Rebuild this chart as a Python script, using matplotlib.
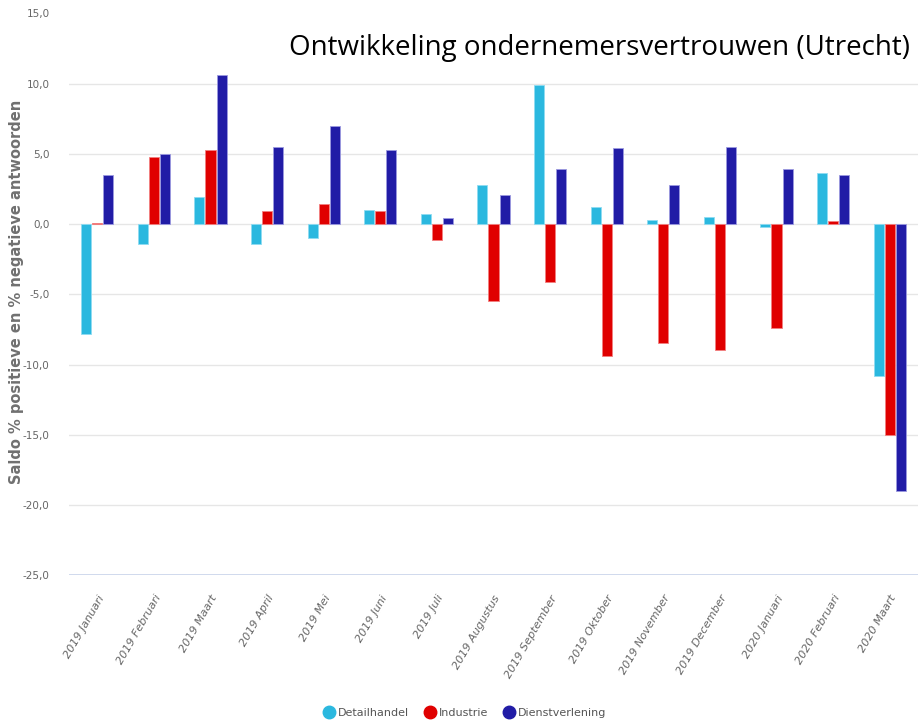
import matplotlib
matplotlib.use("Agg")
import matplotlib.pyplot as plt
import numpy as np
from matplotlib.lines import Line2D

categories = ["2019 Januari", "2019 Februari", "2019 Maart", "2019 April", "2019 Mei",
              "2019 Juni", "2019 Juli", "2019 Augustus", "2019 September", "2019 Oktober",
              "2019 November", "2019 December", "2020 Januari", "2020 Februari", "2020 Maart"]
detailhandel = [-7.8, -1.4, 1.9, -1.4, -1.0, 1.0, 0.7, 2.8, 9.9, 1.2, 0.3, 0.5, -0.2, 3.6, -10.8]
industrie = [0.1, 4.8, 5.3, 0.9, 1.4, 0.9, -1.1, -5.5, -4.1, -9.4, -8.5, -9.0, -7.4, 0.2, -15.0]
dienstverlening = [3.5, 5.0, 10.6, 5.5, 7.0, 5.3, 0.4, 2.1, 3.9, 5.4, 2.8, 5.5, 3.9, 3.5, -19.0]
series_names = ["Detailhandel", "Industrie", "Dienstverlening"]
yticks = [-25, -20, -15, -10, -5, 0, 5, 10, 15]

colors = ["#2bb8df", "#e00000", "#211ca6"]
edges = ["#8fdcf2", "#f27f7f", "#9c9ae0"]

W, H = 918, 723
fig = plt.figure(figsize=(W / 100, H / 100), dpi=100)
ax = fig.add_axes([69 / W, 1 - 575.3 / H, (918 - 69) / W, (575.3 - 13.3) / H])

x = np.arange(len(categories))
bw = 0.177
step = 0.195
for i, (vals, c, ec) in enumerate(zip([detailhandel, industrie, dienstverlening], colors, edges)):
    ax.bar(x + (i - 1) * step, vals, width=bw, color=c, edgecolor=ec, linewidth=0.6, zorder=3)

ax.set_xlim(-0.5, len(categories) - 0.5)
ax.set_ylim(-25, 15)
for t in yticks[1:-1]:
    ax.axhline(t, color="#e6e6e6", linewidth=1.0, zorder=1)
ax.axhline(-25, color="#ccd6eb", linewidth=2.0, zorder=2)

ax.set_yticks(yticks)
ax.set_yticklabels([f"{t:.1f}".replace(".", ",") for t in yticks],
                   fontsize=7.5, color="#666666")
ax.tick_params(axis="y", length=0, pad=14)
ax.set_xticks(x)
ax.set_xticklabels(categories, rotation=60, ha="right", rotation_mode="anchor",
                   fontsize=8, color="#666666", style="italic")
ax.tick_params(axis="x", length=0, pad=13)
for s in ax.spines.values():
    s.set_visible(False)

fig.text(17 / W, 1 - 292 / H, "Saldo % positieve en % negatieve antwoorden", rotation=90,
         ha="center", va="center", fontsize=10.5, color="#707070", fontweight="bold")

fig.text(910 / W, 1 - 48 / H, "Ontwikkeling ondernemersvertrouwen (Utrecht)",
         ha="right", va="center", fontsize=20, color="black", family="Open Sans")

handles = [Line2D([0], [0], marker="o", linestyle="none", markersize=9,
                  markerfacecolor=c, markeredgecolor=c) for c in colors]
leg = fig.legend(handles, series_names, loc="center", bbox_to_anchor=(465 / W, 1 - 713 / H),
                 ncol=3, frameon=False, fontsize=8, handletextpad=0.3, columnspacing=1.4,
                 handlelength=1.0)
for t in leg.get_texts():
    t.set_color("#555555")

fig.savefig("out.png", dpi=100)
